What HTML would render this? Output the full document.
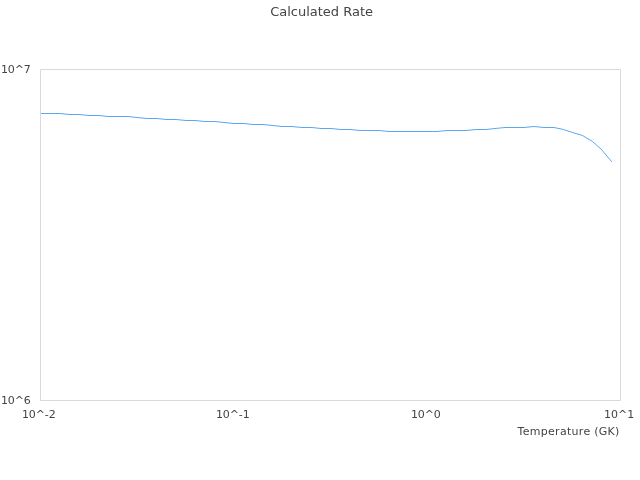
<!DOCTYPE html>
<html><head><meta charset="utf-8"><title>Calculated Rate</title>
<style>
html,body{margin:0;padding:0;background:#fff;}
svg{display:block;}
text{font-family:"DejaVu Sans","Liberation Sans",sans-serif;fill:#444;}
</style></head><body>
<svg xmlns="http://www.w3.org/2000/svg" width="640" height="480" viewBox="0 0 640 480">
<rect x="0" y="0" width="640" height="480" fill="#ffffff"/>
<text x="321.6" y="16" font-size="13" text-anchor="middle">Calculated Rate</text>
<path d="M40.5,69.5 H620.5 V400.5 H40.5 Z" fill="none" stroke="#d9d9d9" stroke-width="1"/>
<polyline points="41.5,113.5 60,113.5 70,114.5 79,114.5 89,115.5 99,115.5 108,116.5 128,116.5 137,117.5 147,118.5 157,118.5 166,119.5 176,119.5 186,120.5 195,120.5 205,121.5 215,121.5 224,122.5 234,123.5 244,123.5 253,124.5 263,124.5 273,125.5 282,126.5 292,126.5 302,127.5 312,127.5 321,128.5 331,128.5 341,129.5 350,129.5 360,130.5 379,130.5 389,131.5 437,131.5 447,130.5 466,130.5 476,129.5 486,129.5 495,128.5 505,127.5 524,127.5 534,126.5 544,127.5 554,127.5 563.5,129.5 572.5,132.5 582.5,135.5 592.5,141.5 601.5,149.5 611.5,161.5" fill="none" stroke="#5ca7f0" stroke-width="1" stroke-linejoin="round" stroke-linecap="square"/>
<text x="1" y="73" font-size="11" textLength="29.8">10^7</text>
<text x="1" y="404" font-size="11" textLength="29.8">10^6</text>
<text x="22" y="418" font-size="11" textLength="33.7">10^-2</text>
<text x="216" y="418" font-size="11" textLength="33.7">10^-1</text>
<text x="411" y="418" font-size="11" textLength="29.8">10^0</text>
<text x="604" y="418" font-size="11">10^1</text>
<text x="517.6" y="434.6" font-size="11" textLength="101.8">Temperature (GK)</text>
</svg>
</body></html>
